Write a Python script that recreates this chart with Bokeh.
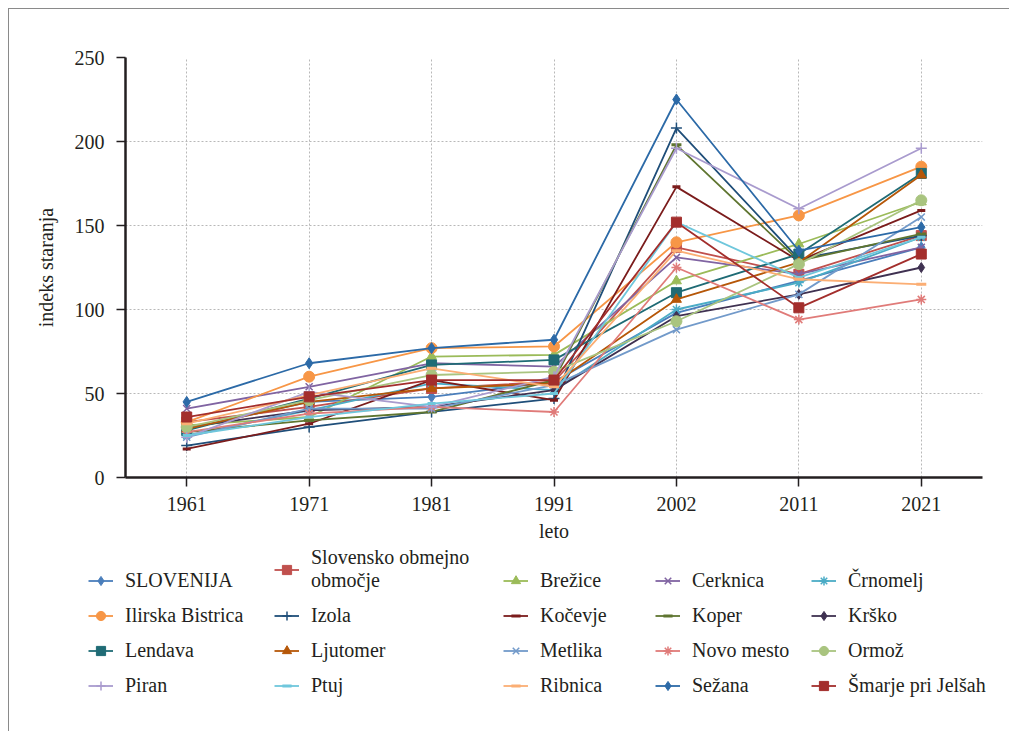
from bokeh.plotting import figure
from bokeh.models import Legend, LegendItem, FactorRange, SingleIntervalTicker, Range1d
from bokeh.embed import file_html
from bokeh.resources import INLINE

years = ["1961", "1971", "1981", "1991", "2002", "2011", "2021"]

names = ["SLOVENIJA", "Slovensko obmejno\nobmočje", "Brežice", "Cerknica", "Črnomelj",
         "Ilirska Bistrica", "Izola", "Kočevje", "Koper", "Krško",
         "Lendava", "Ljutomer", "Metlika", "Novo mesto", "Ormož",
         "Piran", "Ptuj", "Ribnica", "Sežana", "Šmarje pri Jelšah"]

slovenija = [29, 45, 48, 57, 98, 117, 137]
slovensko_obmejno = [33, 42, 53, 57, 137, 121, 144]
brezice = [31, 36, 72, 73, 117, 139, 164]
cerknica = [41, 54, 68, 66, 131, 121, 137]
crnomelj = [25, 40, 56, 52, 100, 116, 143]
ilirska_bistrica = [33, 60, 77, 78, 140, 156, 185]
izola = [19, 30, 39, 47, 208, 130, 144]
kocevje = [17, 32, 58, 46, 173, 129, 159]
koper = [27, 34, 39, 58, 198, 129, 145]
krsko = [30, 40, 42, 52, 96, 109, 125]
lendava = [28, 47, 67, 70, 110, 133, 181]
ljutomer = [29, 45, 53, 56, 106, 128, 180]
metlika = [24, 41, 41, 55, 88, 109, 155]
novo_mesto = [27, 38, 42, 39, 125, 94, 106]
ormoz = [30, 46, 61, 63, 93, 127, 165]
piran = [24, 51, 42, 60, 196, 160, 196]
ptuj = [25, 36, 44, 50, 152, 119, 143]
ribnica = [32, 49, 65, 54, 135, 118, 115]
sezana = [45, 68, 77, 82, 225, 135, 149]
smarje = [36, 48, 58, 58, 152, 101, 133]

series = [slovenija, slovensko_obmejno, brezice, cerknica, crnomelj,
          ilirska_bistrica, izola, kocevje, koper, krsko,
          lendava, ljutomer, metlika, novo_mesto, ormoz,
          piran, ptuj, ribnica, sezana, smarje]

colors = ["#4a7ebb", "#c0504d", "#9bbb59", "#8064a2", "#4bacc6",
          "#f79646", "#1f4e79", "#7b1c1c", "#5f7530", "#3f3151",
          "#1f6b75", "#b65708", "#729aca", "#e07b79", "#a9c47f",
          "#a99bce", "#6fc7dc", "#fbae74", "#2c6aa7", "#a32e2c"]

markers = ["diamond", "square", "triangle", "x", "asterisk",
           "circle", "cross", "dash", "dash", "diamond",
           "square", "triangle", "x", "asterisk", "circle",
           "cross", "dash", "dash", "diamond", "square"]

sizes = [11, 10, 10, 10, 10,
         11, 11, 8, 10, 10,
         10, 10, 10, 10, 11,
         11, 8, 10, 11, 10]

FONT = "Liberation Serif"
TXT = "#231f20"

p = figure(x_range=FactorRange(factors=years, range_padding=0),
           y_range=(0, 250), frame_width=857, frame_height=420,
           output_backend="svg", toolbar_location=None,
           min_border_left=116, min_border_top=48, min_border_right=27,
           min_border_bottom=72)
p.outline_line_color = None
p.background_fill_color = "white"
p.border_fill_color = "white"
p.styles = {"margin-left": "8px", "margin-top": "8px",
            "border-left": "1px solid #8a8a8a", "border-top": "1px solid #8a8a8a"}

p.yaxis.ticker = SingleIntervalTicker(interval=50)
for ax in (p.xaxis[0], p.yaxis[0]):
    ax.axis_line_color = TXT
    ax.axis_line_width = 2.5
    ax.major_tick_line_color = TXT
    ax.major_tick_line_width = 1.5
    ax.major_tick_in = 0
    ax.major_tick_out = 9
    ax.minor_tick_line_color = None
    ax.major_label_text_font = FONT
    ax.major_label_text_font_size = "20px"
    ax.major_label_text_color = TXT
    ax.axis_label_text_font = FONT
    ax.axis_label_text_font_size = "20px"
    ax.axis_label_text_font_style = "normal"
    ax.axis_label_text_color = TXT
p.xaxis.axis_label = "leto"
p.yaxis.axis_label = "indeks staranja"
p.xaxis.major_label_standoff = 10
p.yaxis.major_label_standoff = 12
p.xaxis.axis_label_standoff = 6
p.yaxis.axis_label_standoff = 15

for g in (p.xgrid[0], p.ygrid[0]):
    g.grid_line_color = "#b8b8b8"
    g.grid_line_dash = "2 2"
    g.grid_line_width = 1


def style_of(m):
    return 3 if m == "dash" else (1.5 if m in ("x", "cross", "asterisk") else 1)


for vals, c, m, s in zip(series, colors, markers, sizes):
    p.line(years, vals, line_color=c, line_width=1.8)
    p.scatter(years, vals, marker=m, size=s, fill_color=c, line_color=c, line_width=style_of(m))

# legend panel: a second, axis-less, transparent root figure whose frame is the
# whole area; it overlaps the chart's empty bottom strip a little. Its renderers
# use the same series but its y range lies above the data, so only swatches show.
lf = figure(width=1000, height=192, x_range=FactorRange(factors=years, range_padding=0),
            y_range=Range1d(300, 400),
            output_backend="svg", toolbar_location=None,
            x_axis_location=None, y_axis_location=None, min_border=0)
lf.outline_line_color = None
lf.background_fill_color = None
lf.border_fill_color = None
lf.xgrid.visible = False
lf.ygrid.visible = False
lf.styles = {"margin-left": "8px", "margin-top": "-10px",
             "border-left": "1px solid #8a8a8a"}

items = []
for name, vals, c, m, s in zip(names, series, colors, markers, sizes):
    lr = lf.line(years, vals, line_color=c, line_width=1.8)
    sr = lf.scatter(years, vals, marker=m, size=s - 1, fill_color=c, line_color=c,
                    line_width=style_of(m))
    items.append(LegendItem(label=name, renderers=[lr, sr]))

col_x = [79, 265, 494, 646, 802]
for k in range(5):
    lg = Legend(items=items[k::5], orientation="vertical",
                location=(col_x[k], 34), border_line_color=None,
                background_fill_alpha=0,
                label_text_font=FONT, label_text_font_size="20px",
                label_text_color=TXT,
                label_text_line_height=0.87,
                glyph_width=25, glyph_height=23,
                label_standoff=12, spacing=12, padding=0, margin=0,
                label_height=23)
    lf.add_layout(lg, "center")

open("out.html", "w").write(file_html([p, lf], INLINE))
